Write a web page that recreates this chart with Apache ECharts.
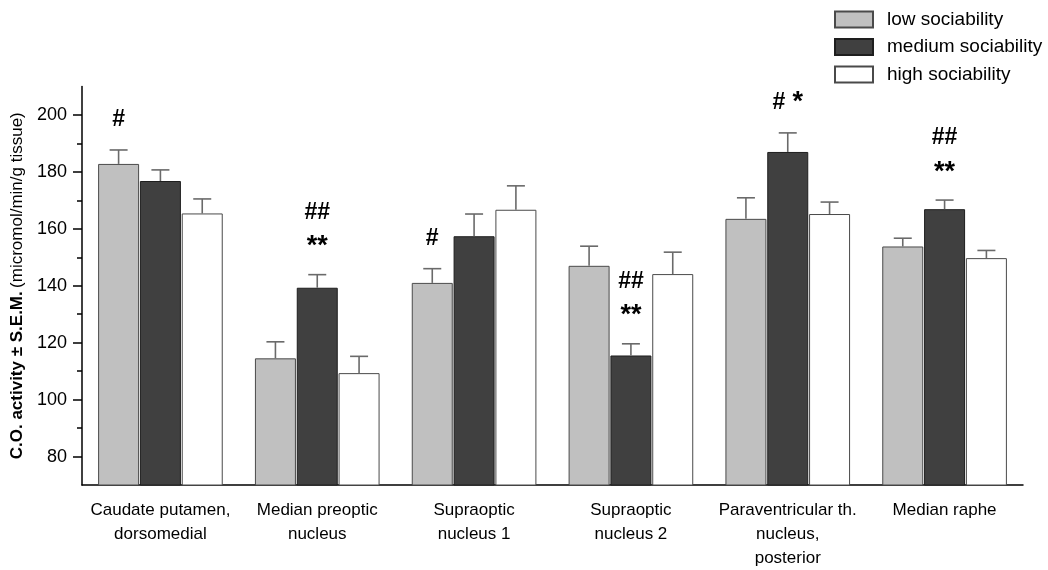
<!DOCTYPE html>
<html>
<head>
<meta charset="utf-8">
<script src="https://cdn.jsdelivr.net/npm/echarts@6/dist/echarts.min.js"></script>
<style>
  html, body { margin: 0; padding: 0; background: #fff; }
  #chart { width: 1048px; height: 570px; }
</style>
</head>
<body>
<div id="chart"></div>
<script>
// Brain regions (x categories)
const categories = [
  'Caudate putamen,\ndorsomedial',
  'Median preoptic\nnucleus',
  'Supraoptic\nnucleus 1',
  'Supraoptic\nnucleus 2',
  'Paraventricular th.\nnucleus,\nposterior',
  'Median raphe'
];

// Group names
const groupNames = ['low sociability', 'medium sociability', 'high sociability'];

// Mean C.O. activity and S.E.M. per group
const lowMean  = [182.8, 114.5, 141.0, 147.0, 163.5, 153.8];
const lowSem   = [4.9, 5.8, 5.0, 6.9, 7.4, 2.9];
const medMean  = [176.8, 139.3, 157.4, 115.5, 187.0, 166.9];
const medSem   = [3.9, 4.6, 7.8, 4.1, 6.7, 3.2];
const highMean = [165.4, 109.3, 166.7, 144.1, 165.2, 149.7];
const highSem  = [5.1, 5.9, 8.4, 7.7, 4.2, 2.7];

// Significance marks above each bar, listed top line first
const lowMarks  = [['#'], [], ['#'], [], [], []];
const medMarks  = [[], ['##', '**'], [], ['##', '**'], ['# *'], ['##', '**']];
const highMarks = [[], [], [], [], [], []];

// Y axis tick values
const yMajorTicks = [80, 100, 120, 140, 160, 180, 200];
const yMinorTicks = [90, 110, 130, 150, 170, 190];

const FONT = 'Liberation Sans, Arial, sans-serif';
const BAR_W = 41;
const BAR_STEP = BAR_W * 1.02;

const groups = [
  { mean: lowMean,  sem: lowSem,  marks: lowMarks,  fill: '#c0c0c0', border: '#4a4a4a' },
  { mean: medMean,  sem: medSem,  marks: medMarks,  fill: '#404040', border: '#1e1e1e' },
  { mean: highMean, sem: highSem, marks: highMarks, fill: '#ffffff', border: '#4a4a4a' }
];

function markRich(line) {
  return line.replace(/(#+)/g, '{h|$1}').replace(/(\*+)/g, '{s|$1}');
}

const barSeries = groups.map((g, k) => ({
  name: groupNames[k],
  type: 'bar',
  data: g.mean,
  barWidth: BAR_W,
  barGap: '2%',
  itemStyle: { color: g.fill, borderColor: g.border, borderWidth: 1 },
  z: 2
}));

const errSeries = groups.map((g, k) => ({
  name: groupNames[k] + ' S.E.M.',
  type: 'custom',
  z: 5,
  data: g.mean.map((m, i) => [i, m, g.sem[i]]),
  encode: { x: 0, y: 1 },
  renderItem: function (params, api) {
    const idx = api.value(0);
    const mean = api.value(1);
    const sem = api.value(2);
    const base = api.coord([idx, mean]);
    const top = api.coord([idx, mean + sem])[1];
    const x = base[0] + (k - 1) * BAR_STEP;
    const children = [
      { type: 'line', shape: { x1: x, y1: base[1], x2: x, y2: top },
        style: { stroke: '#6a6a6a', lineWidth: 1.6 } },
      { type: 'line', shape: { x1: x - 9, y1: top, x2: x + 9, y2: top },
        style: { stroke: '#6a6a6a', lineWidth: 1.6 } }
    ];
    const lines = g.marks[params.dataIndex];
    const n = lines.length;
    lines.forEach((line, j) => {
      const level = n - j; // 1 = nearest to the cap
      const starOnly = /^\*+$/.test(line);
      children.push({
        type: 'text',
        x: x,
        y: top - 32 * level + (starOnly ? 4 : 2),
        style: {
          text: markRich(line),
          align: 'center',
          verticalAlign: 'middle',
          fill: '#000',
          fontFamily: FONT,
          fontSize: 26,
          rich: {
            h: { fontSize: 23, fontWeight: 'bold', fontFamily: FONT, fill: '#000' },
            s: { fontSize: 27, fontWeight: 'bold', fontFamily: FONT, fill: '#000' }
          }
        }
      });
    });
    return { type: 'group', children: children };
  }
}));

const chart = echarts.init(document.getElementById('chart'));
chart.setOption({
  animation: false,
  backgroundColor: '#fff',
  textStyle: { fontFamily: FONT, color: '#000' },
  legend: {
    data: groupNames,
    orient: 'vertical',
    left: 829,
    top: 5,
    itemWidth: 38,
    itemHeight: 16,
    itemGap: 8.5,
    icon: 'rect',
    selectedMode: false,
    textStyle: { fontSize: 19, color: '#000', fontFamily: FONT, padding: [0, 0, 0, 9] }
  },
  grid: { left: 82, right: 25, top: 86.5, bottom: 84.5, containLabel: false },
  xAxis: {
    type: 'category',
    data: categories,
    axisLine: { lineStyle: { color: '#000', width: 1.5 } },
    axisTick: { length: 7, lineStyle: { color: '#000', width: 1.5 } },
    axisLabel: { color: '#000', fontSize: 17, lineHeight: 24, margin: 13, interval: 0, fontFamily: FONT }
  },
  yAxis: [
    {
      type: 'value',
      min: 70,
      max: 210,
      position: 'left',
      axisLine: { show: true, lineStyle: { color: '#000', width: 1.5 } },
      axisTick: { show: true, customValues: yMajorTicks, length: 9, lineStyle: { color: '#000', width: 1.5 } },
      axisLabel: { customValues: yMajorTicks, color: '#000', fontSize: 18, margin: 15, fontFamily: FONT },
      splitLine: { show: false },
      name: '{b|C.O. activity ± S.E.M.} {n|(micromol/min/g tissue)}',
      nameLocation: 'middle',
      nameGap: 55,
      nameRotate: 90,
      nameTextStyle: {
        color: '#000',
        rich: {
          b: { fontSize: 17, fontWeight: 'bold', fontFamily: FONT, color: '#000' },
          n: { fontSize: 17, fontFamily: FONT, color: '#000' }
        }
      }
    },
    {
      type: 'value',
      min: 70,
      max: 210,
      position: 'left',
      axisLine: { show: false },
      axisTick: { show: true, customValues: yMinorTicks, length: 5, lineStyle: { color: '#000', width: 1.5 } },
      axisLabel: { show: false },
      splitLine: { show: false }
    }
  ],
  series: barSeries.concat(errSeries)
});
</script>
</body>
</html>
